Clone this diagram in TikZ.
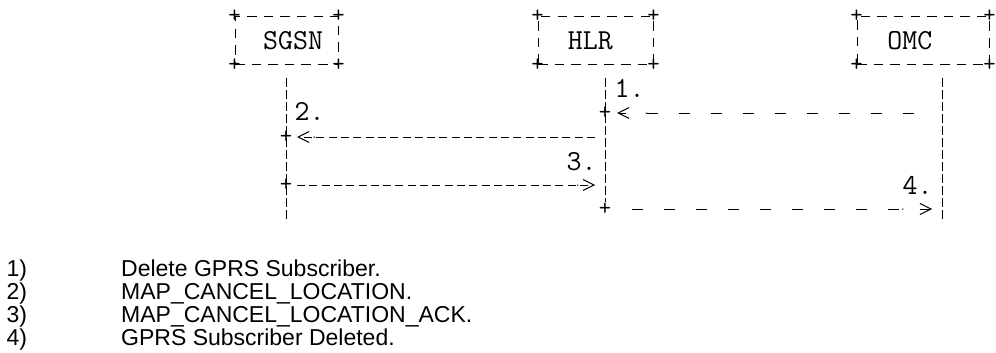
\documentclass[tikz,border=0pt]{standalone}
\usepackage{fontspec}
\setmainfont{Liberation Sans}
\usetikzlibrary{arrows.meta}

\begin{document}
\begin{tikzpicture}[x=1pt,y=-1pt]
	% Styles
	\tikzstyle{boite}=[draw, line width=1pt, dash pattern=on 9.5pt off 7.1pt, minimum height=48pt, inner sep=0pt, label={[coin]north west:+}, label={[coin]north east:+}, label={[coin]south west:+}, label={[coin]south east:+}]
	\tikzstyle{coin}=[anchor=center, inner sep=0pt, font=\ttfamily\fontsize{24}{24}\selectfont]
	\tikzstyle{croix}=[inner sep=0pt, font=\ttfamily\fontsize{24}{24}\selectfont]
	\tikzstyle{nom}=[anchor=base west, inner sep=0pt, font=\ttfamily\fontsize{29}{24}\selectfont]
	\tikzstyle{etiquette}=[anchor=base west, inner sep=0pt, font=\ttfamily\fontsize{29}{24}\selectfont]
	\tikzstyle{legende}=[anchor=base west, inner sep=0pt, font=\fontsize{23}{23}\selectfont]
	\tikzstyle{vie}=[line width=1pt, dash pattern=on 9pt off 3pt]
	\tikzstyle{fleche}=[line width=1pt, dash pattern=on 8pt off 4.3pt, -{Butt Cap[sep=4pt]Straight Barb[length=11pt,width=11pt]}]
	\tikzstyle{flechepointillee}=[line width=1pt, dash pattern=on 10.7pt off 21.3pt, -{Butt Cap[sep=16pt]Straight Barb[length=11pt,width=11pt]}]
	% Dimensions
	\def\xS{286}
	\def\xH{605}
	\def\xO{942}
	\def\yHaut{78}
	\def\yBas{222}
	\useasboundingbox (0,0) rectangle (996,353);
	% Entites
	\node[boite, minimum width=103pt] (sgsn) at (286.5,41) {};
	\node[nom] (tsgsn) at (263,50) {SGSN};
	\node[boite, minimum width=115pt] (hlr) at (595.5,41) {};
	\node[nom] (thlr) at (567.7,50) {HLR};
	\node[boite, minimum width=132pt] (omc) at (923,41) {};
	\node[nom] (tomc) at (887.2,50) {OMC};
	% Lignes de vie
	\coordinate (hautS) at (\xS,\yHaut);
	\coordinate (basS) at (\xS,\yBas);
	\coordinate (hautH) at (\xH,\yHaut);
	\coordinate (hautO) at (\xO,\yHaut);
	\coordinate (basO) at (\xO,\yBas);
	\coordinate (o1) at (\xO,113);
	\coordinate (h2) at (\xH,137);
	\coordinate (h3) at (\xH,185);
	\coordinate (o4) at (\xO,209);
	\node[croix] (p1) at (\xH,113) {+};
	\node[croix] (p2) at (\xS,137) {+};
	\node[croix] (p3) at (\xS,185) {+};
	\node[croix] (p4) at (\xH,209) {+};
	\draw[vie] (hautS) -- (basS);
	\draw[vie] (hautH) -- (p4);
	\draw[vie] (hautO) -- (basO);
	% Messages
	\node[etiquette] (l1) at (614.4,97) {1.};
	\node[etiquette] (l2) at (294.4,121) {2.};
	\node[etiquette] (l3) at (566.4,170) {3.};
	\node[etiquette] (l4) at (902.4,194) {4.};
	\draw[flechepointillee, shorten <=28.5pt, shorten >=5.7pt] (o1) -- (p1);
	\draw[fleche, shorten <=10pt, shorten >=4.7pt] (h2) -- (p2);
	\draw[fleche, shorten <=4.7pt, shorten >=10pt] (p3) -- (h3);
	\draw[flechepointillee, shorten <=20.7pt, shorten >=10pt] (p4) -- (o4);
	% Legende
	\node[legende] (n1) at (6.5,276) {1)};
	\node[legende] (t1) at (121,276) {Delete GPRS Subscriber.};
	\node[legende] (n2) at (6.5,299) {2)};
	\node[legende] (t2) at (121,299) {MAP\_CANCEL\_LOCATION.};
	\node[legende] (n3) at (6.5,322) {3)};
	\node[legende] (t3) at (121,322) {MAP\_CANCEL\_LOCATION\_ACK.};
	\node[legende] (n4) at (6.5,345) {4)};
	\node[legende] (t4) at (121,345) {GPRS Subscriber Deleted.};
\end{tikzpicture}
\end{document}
